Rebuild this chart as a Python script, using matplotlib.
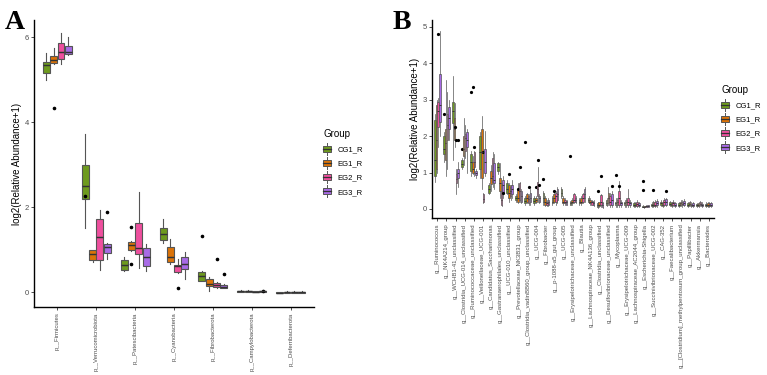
import numpy as np
import matplotlib
matplotlib.use("Agg")
import matplotlib.pyplot as plt
from matplotlib.patches import Rectangle
from matplotlib.lines import Line2D
from matplotlib.legend_handler import HandlerBase

plt.rcParams['font.family'] = ['Liberation Sans', 'DejaVu Sans']

groups = ["CG1_R", "EG1_R", "EG2_R", "EG3_R"]
colors = ["#6E9A1E", "#DB7308", "#EE4F9E", "#A86BE6"]

# ---------------- Panel A data (phylum) ----------------
phyla = ["p__Firmicutes", "p__Verrucomicrobiota", "p__Patescibacteria",
         "p__Cyanobacteria", "p__Fibrobacterota", "p__Campylobacterota",
         "p__Deferribacterota"]

# per group: lists over phyla
a_med = [[5.33, 2.50, 0.64, 1.36, 0.38, 0.02, -0.01],
         [5.47, 0.89, 1.11, 0.82, 0.20, 0.02, 0.00],
         [5.65, 1.30, 1.03, 0.62, 0.17, 0.01, 0.00],
         [5.64, 1.07, 0.83, 0.67, 0.13, 0.02, 0.00]]
a_q1 = [[5.15, 2.18, 0.53, 1.22, 0.27, 0.01, -0.02],
        [5.38, 0.76, 0.99, 0.71, 0.14, 0.01, -0.01],
        [5.48, 0.75, 0.89, 0.48, 0.11, 0.00, -0.01],
        [5.59, 0.92, 0.62, 0.54, 0.10, 0.01, -0.01]]
a_q3 = [[5.42, 2.99, 0.75, 1.50, 0.48, 0.03, 0.00],
        [5.56, 0.99, 1.18, 1.05, 0.31, 0.03, 0.01],
        [5.87, 1.73, 1.63, 0.64, 0.22, 0.02, 0.01],
        [5.80, 1.12, 1.03, 0.82, 0.16, 0.03, 0.01]]
a_lo = [[4.99, 1.50, 0.50, 1.15, 0.25, 0.00, -0.03],
        [5.36, 0.71, 0.97, 0.66, 0.03, 0.00, -0.02],
        [5.36, 0.53, 0.56, 0.46, 0.10, 0.00, -0.02],
        [5.58, 0.78, 0.49, 0.32, 0.09, 0.00, -0.02]]
a_hi = [[5.62, 3.73, 0.83, 1.73, 0.50, 0.04, 0.01],
        [5.73, 0.99, 1.20, 1.24, 0.36, 0.04, 0.02],
        [6.09, 1.93, 2.36, 0.79, 0.24, 0.03, 0.02],
        [5.99, 1.15, 1.14, 0.95, 0.18, 0.04, 0.02]]
a_out = [[[], [2.27], [], [], [1.33], [], []],
         [[4.32], [], [1.54, 0.66], [], [], [], []],
         [[], [], [], [0.09], [0.79], [], []],
         [[], [1.89], [], [], [0.42], [0.03], []]]

# ---------------- Panel B data (genus) ----------------
genera = ["g__Ruminococcus", "g__NK4A214_group", "g__WCHB1-41_unclassified",
          "g__Clostridia_UCG-014_unclassified", "g__Ruminococcaceae_unclassified",
          "g__Veillonellaceae_UCG-001", "g__Candidatus_Saccharimonas",
          "g__Gastranaerophilales_unclassified", "g__UCG-010_unclassified",
          "g__Prevotellaceae_NK3B31_group", "g__Clostridia_vadinBB60_group_unclassified",
          "g__UCG-004", "g__Fibrobacter", "g__p-1088-a5_gut_group", "g__UCG-005",
          "g__Erysipelotrichaceae_unclassified", "g__Blautia",
          "g__Lachnospiraceae_NK4A136_group", "g__Clostridia_unclassified",
          "g__Desulfovibrionaceae_unclassified", "g__Mycoplasma",
          "g__Erysipelotrichaceae_UCG-009", "g__Lachnospiraceae_AC2044_group",
          "g__Escherichia-Shigella", "g__Succinivibrionaceae_UCG-002", "g__CAG-352",
          "g__Faecalibacterium", "g__[Clostridium]_methylpentosum_group_unclassified",
          "g__Papillibacter", "g__Akkermansia", "g__Bacteroides"]

b_med = [[1.35, 1.65, 2.70, 1.22, 1.30, 1.55, 0.55, 1.15, 0.55, 0.30, 0.22, 0.22, 0.30, 0.20, 0.45, 0.15,
          0.20, 0.25, 0.10, 0.15, 0.15, 0.15, 0.12, 0.06, 0.10, 0.15, 0.14, 0.12, 0.12, 0.10, 0.10],
         [1.90, 1.80, 2.20, 1.65, 1.10, 1.55, 0.85, 0.70, 0.45, 0.30, 0.30, 0.25, 0.20, 0.30, 0.20, 0.20,
          0.20, 0.20, 0.12, 0.30, 0.20, 0.18, 0.12, 0.05, 0.12, 0.12, 0.12, 0.15, 0.14, 0.12, 0.11],
         [2.70, 2.30, 0.82, 1.95, 1.30, 0.28, 0.90, 0.25, 0.50, 0.50, 0.28, 0.55, 0.15, 0.35, 0.20, 0.25,
          0.30, 0.18, 0.20, 0.20, 0.30, 0.20, 0.14, 0.07, 0.12, 0.18, 0.15, 0.14, 0.10, 0.14, 0.12],
         [2.85, 2.50, 1.00, 1.90, 0.98, 1.30, 0.80, 0.65, 0.55, 0.35, 0.30, 0.30, 0.18, 0.40, 0.18, 0.25,
          0.40, 0.15, 0.10, 0.25, 0.15, 0.15, 0.12, 0.08, 0.15, 0.20, 0.12, 0.16, 0.12, 0.10, 0.12]]
b_q1 = [[0.90, 1.50, 2.35, 1.15, 1.05, 1.10, 0.45, 1.05, 0.45, 0.25, 0.15, 0.15, 0.20, 0.15, 0.35, 0.12,
         0.15, 0.20, 0.05, 0.10, 0.10, 0.10, 0.08, 0.05, 0.07, 0.10, 0.10, 0.08, 0.09, 0.07, 0.07],
        [1.10, 1.35, 1.90, 1.45, 1.00, 0.85, 0.68, 0.50, 0.30, 0.20, 0.20, 0.20, 0.12, 0.20, 0.15, 0.15,
         0.15, 0.15, 0.08, 0.15, 0.10, 0.10, 0.08, 0.04, 0.08, 0.08, 0.08, 0.10, 0.10, 0.08, 0.08],
        [2.25, 1.90, 0.70, 1.60, 1.15, 0.20, 0.75, 0.12, 0.35, 0.25, 0.15, 0.35, 0.10, 0.20, 0.15, 0.20,
         0.20, 0.12, 0.10, 0.10, 0.10, 0.10, 0.09, 0.05, 0.08, 0.10, 0.10, 0.10, 0.07, 0.10, 0.09],
        [2.40, 2.20, 0.85, 1.70, 0.93, 1.00, 0.70, 0.45, 0.40, 0.20, 0.20, 0.20, 0.12, 0.25, 0.12, 0.20,
         0.30, 0.10, 0.05, 0.10, 0.10, 0.10, 0.08, 0.06, 0.10, 0.12, 0.08, 0.10, 0.09, 0.07, 0.08]]
b_q3 = [[2.45, 2.00, 2.95, 1.35, 1.50, 2.00, 0.65, 1.25, 0.70, 0.35, 0.30, 0.30, 0.45, 0.30, 0.55, 0.20,
         0.25, 0.30, 0.15, 0.25, 0.20, 0.20, 0.16, 0.08, 0.14, 0.20, 0.18, 0.16, 0.16, 0.13, 0.14],
        [2.85, 2.20, 2.50, 2.00, 1.30, 2.20, 1.05, 0.85, 0.65, 0.55, 0.40, 0.30, 0.30, 0.40, 0.30, 0.25,
         0.30, 0.25, 0.18, 0.45, 0.25, 0.25, 0.16, 0.07, 0.18, 0.16, 0.16, 0.20, 0.18, 0.16, 0.15],
        [2.95, 2.60, 0.95, 2.05, 1.55, 0.40, 1.40, 0.50, 0.60, 0.70, 0.35, 0.75, 0.20, 0.45, 0.25, 0.40,
         0.40, 0.22, 0.38, 0.35, 0.50, 0.30, 0.20, 0.09, 0.20, 0.25, 0.20, 0.20, 0.14, 0.18, 0.16],
        [3.70, 2.80, 1.10, 2.10, 1.05, 1.65, 1.25, 0.80, 0.65, 0.50, 0.45, 0.35, 0.25, 0.55, 0.22, 0.30,
         0.55, 0.20, 0.15, 0.40, 0.20, 0.20, 0.16, 0.10, 0.22, 0.26, 0.16, 0.22, 0.16, 0.14, 0.16]]
b_lo = [[0.75, 1.30, 1.35, 1.10, 0.90, 0.85, 0.40, 0.95, 0.40, 0.20, 0.10, 0.10, 0.10, 0.10, 0.30, 0.10,
         0.10, 0.15, 0.03, 0.08, 0.05, 0.05, 0.05, 0.04, 0.05, 0.07, 0.07, 0.05, 0.06, 0.05, 0.05],
        [1.00, 0.90, 1.70, 1.20, 0.95, 0.55, 0.50, 0.30, 0.20, 0.15, 0.15, 0.15, 0.08, 0.15, 0.10, 0.10,
         0.10, 0.10, 0.05, 0.10, 0.05, 0.05, 0.05, 0.03, 0.05, 0.05, 0.05, 0.07, 0.07, 0.05, 0.05],
        [1.70, 1.10, 0.40, 1.40, 0.90, 0.15, 0.60, 0.08, 0.25, 0.20, 0.10, 0.20, 0.08, 0.12, 0.12, 0.15,
         0.15, 0.10, 0.05, 0.05, 0.05, 0.05, 0.06, 0.04, 0.05, 0.07, 0.07, 0.06, 0.05, 0.07, 0.06],
        [2.00, 1.90, 0.60, 1.00, 0.85, 0.90, 0.55, 0.30, 0.30, 0.15, 0.12, 0.15, 0.08, 0.15, 0.10, 0.15,
         0.20, 0.08, 0.03, 0.05, 0.05, 0.05, 0.05, 0.05, 0.06, 0.08, 0.05, 0.07, 0.06, 0.05, 0.05]]
b_hi = [[2.60, 2.10, 3.65, 1.40, 1.60, 2.10, 0.70, 1.30, 0.80, 0.40, 0.35, 0.35, 0.50, 0.35, 0.60, 0.22,
         0.30, 0.35, 0.20, 0.30, 0.30, 0.25, 0.20, 0.10, 0.18, 0.25, 0.22, 0.20, 0.20, 0.16, 0.18],
        [3.00, 3.55, 2.90, 2.50, 1.45, 2.55, 1.20, 1.25, 0.70, 0.70, 0.45, 0.35, 0.35, 0.45, 0.35, 0.30,
         0.35, 0.30, 0.20, 0.60, 0.30, 0.30, 0.20, 0.08, 0.22, 0.20, 0.20, 0.25, 0.22, 0.20, 0.18],
        [3.05, 3.20, 1.10, 2.30, 1.60, 0.45, 1.55, 0.70, 0.65, 0.75, 0.40, 1.15, 0.25, 0.50, 0.30, 0.45,
         0.45, 0.25, 0.42, 0.45, 0.78, 0.55, 0.24, 0.10, 0.25, 0.30, 0.25, 0.25, 0.18, 0.22, 0.20],
        [4.90, 3.00, 1.30, 2.20, 1.10, 2.15, 1.50, 0.90, 0.80, 0.55, 0.55, 0.40, 0.30, 0.60, 0.25, 0.35,
         0.60, 0.25, 0.20, 0.50, 0.25, 0.25, 0.20, 0.12, 0.26, 0.30, 0.20, 0.26, 0.20, 0.18, 0.20]]
b_out = [{1: [2.60], 3: [1.65], 4: [3.20], 10: [1.83], 12: [0.82], 15: [1.45], 18: [0.50],
          20: [0.93], 23: [0.77, 0.52]},
         {2: [2.25], 4: [3.35], 8: [0.97], 9: [0.55], 11: [0.60], 13: [0.48], 24: [0.52]},
         {0: [4.80], 2: [1.88], 4: [1.70], 5: [1.55], 9: [1.15], 10: [0.60], 11: [1.35],
          18: [0.90], 20: [0.63]},
         {2: [1.88], 7: [0.45], 11: [0.65], 19: [0.62], 25: [0.48]}]


class BoxKey(HandlerBase):
    def create_artists(self, legend, orig_handle, xdescent, ydescent,
                       width, height, fontsize, trans):
        fc = orig_handle.get_facecolor()
        x0, y0 = -xdescent, -ydescent
        cx = x0 + width / 2
        rect = Rectangle((x0, y0 + 0.1 * height), width, 0.8 * height,
                         facecolor=fc, edgecolor="#555555", lw=0.7, transform=trans)
        med = Line2D([x0, x0 + width], [y0 + 0.5 * height] * 2, color="#333333", lw=0.9, transform=trans)
        w1 = Line2D([cx, cx], [y0 - 0.25 * height, y0 + 0.1 * height], color="#555555", lw=0.7, transform=trans)
        w2 = Line2D([cx, cx], [y0 + 0.9 * height, y0 + 1.25 * height], color="#555555", lw=0.7, transform=trans)
        return [w1, w2, rect, med]


def draw_boxes(ax, n, med, q1, q3, lo, hi, outs, lw, msize):
    bw = 0.75 / 4
    x = np.arange(n)
    for g in range(4):
        stats = []
        for i in range(n):
            if isinstance(outs[g], dict):
                fl = outs[g].get(i, [])
            else:
                fl = outs[g][i]
            stats.append(dict(med=med[g][i], q1=q1[g][i], q3=q3[g][i],
                              whislo=lo[g][i], whishi=hi[g][i], fliers=fl))
        pos = x + (g - 1.5) * bw
        ax.bxp(stats, positions=pos, widths=bw * 0.95, showcaps=False,
               patch_artist=True, manage_ticks=False,
               boxprops=dict(facecolor=colors[g], edgecolor="#555555", linewidth=lw),
               medianprops=dict(color="#333333", linewidth=lw * 1.3),
               whiskerprops=dict(color="#555555", linewidth=lw),
               flierprops=dict(marker="o", markerfacecolor="black", markeredgecolor="black",
                               markersize=msize))


def style(ax, labels, ylim, yticks, xfs):
    n = len(labels)
    ax.set_xlim(-0.6, n - 0.4)
    ax.set_ylim(*ylim)
    ax.set_yticks(yticks)
    ax.set_xticks(np.arange(n))
    ax.set_xticklabels(labels, rotation=90, fontsize=xfs, color="#4D4D4D")
    ax.tick_params(axis="y", labelsize=5.5, labelcolor="#4D4D4D", length=2, width=0.6, color="#333333", pad=1.5)
    ax.tick_params(axis="x", length=2, width=0.6, color="#333333", pad=2)
    for s in ["top", "right"]:
        ax.spines[s].set_visible(False)
    for s in ["left", "bottom"]:
        ax.spines[s].set_linewidth(1.0)
        ax.spines[s].set_color("black")
    ax.set_ylabel("log2(Relative Abundance+1)", fontsize=7, labelpad=2)


fig = plt.figure(figsize=(7.67, 3.75), dpi=100)

axA = fig.add_axes([34 / 767, 1 - 307 / 375, 280 / 767, 287 / 375])
draw_boxes(axA, len(phyla), a_med, a_q1, a_q3, a_lo, a_hi, a_out, 0.8, 1.6)
style(axA, phyla, (-0.35, 6.4), [0, 2, 4, 6], 4.3)

axB = fig.add_axes([432 / 767, 1 - 218 / 375, 282 / 767, 198 / 375])
draw_boxes(axB, len(genera), b_med, b_q1, b_q3, b_lo, b_hi, b_out, 0.5, 1.3)
style(axB, genera, (-0.25, 5.19), [0, 1, 2, 3, 4, 5], 4.3)

fig.text(5 / 767, 1 - 29 / 375, "A", fontsize=20, fontweight="bold", family="Liberation Serif")
fig.text(393 / 767, 1 - 29 / 375, "B", fontsize=20, fontweight="bold", family="Liberation Serif")

handles = [Rectangle((0, 0), 1, 1, facecolor=c) for c in colors]
for anchor in [(320 / 767, 1 - 126 / 375), (718 / 767, 1 - 82 / 375)]:
    leg = fig.legend(handles, groups, title="Group", loc="upper left", bbox_to_anchor=anchor,
                     frameon=False, fontsize=5.5, title_fontsize=7,
                     handler_map={Rectangle: BoxKey()}, handlelength=1.1, handleheight=1.2,
                     handletextpad=0.8, labelspacing=0.75, borderaxespad=0)
    leg._legend_box.align = "left"

fig.savefig("out.png", dpi=100)
